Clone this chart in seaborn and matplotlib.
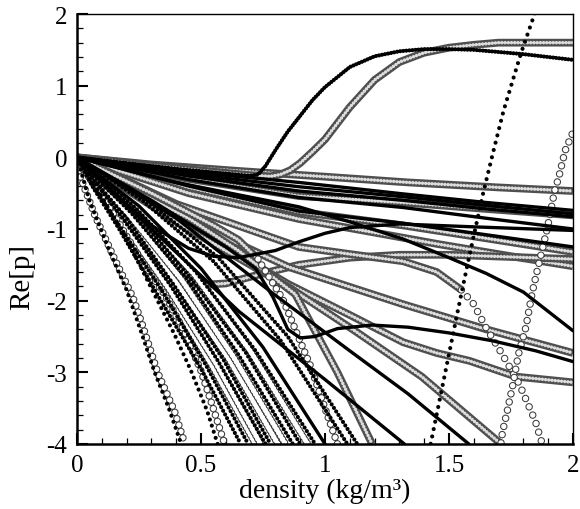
import matplotlib
matplotlib.use("Agg")
import matplotlib.pyplot as plt
import seaborn as sns
from matplotlib.ticker import MultipleLocator, FuncFormatter

# ---- data: density (kg/m3) vs Re[p] ----
# shallow fan ending on the right edge
ring_a_x = [0, 0.3, 0.65, 1.0, 1.335, 1.7, 2.0]
ring_a_y = [0, -0.1, -0.19, -0.27, -0.35, -0.42, -0.47]

ring_rise_x = [0, 0.4, 0.7, 0.78, 0.82, 0.86, 0.9, 0.95, 1.0, 1.1, 1.2, 1.3, 1.4, 1.5, 1.6, 1.7, 2.0]
ring_rise_y = [0, -0.15, -0.25, -0.265, -0.24, -0.18, -0.08, 0.08, 0.25, 0.7, 1.08, 1.33, 1.46, 1.53, 1.57, 1.6, 1.6]

dots_rise_x = [0, 0.4, 0.7, 0.73, 0.76, 0.8, 0.85, 0.9, 0.95, 1.0, 1.1, 1.2, 1.3, 1.4, 1.5, 1.6, 1.7, 1.8, 1.9, 2.0]
dots_rise_y = [0, -0.16, -0.26, -0.24, -0.12, 0.1, 0.36, 0.58, 0.8, 0.98, 1.26, 1.41, 1.48, 1.51, 1.51, 1.5, 1.47, 1.44, 1.4, 1.36]

fan_x = [0, 0.45, 0.894, 1.315, 1.65, 2.0]
sol_1_y = [0, -0.2, -0.35, -0.51, -0.63, -0.74]
sol_2_y = [0, -0.23, -0.41, -0.55, -0.67, -0.79]
sol_3_y = [0, -0.26, -0.47, -0.6, -0.72, -0.83]
ring_b_y = [0, -0.3, -0.54, -0.63, -0.72, -0.81]
sol_4_y = [0, -0.31, -0.56, -0.7, -0.85, -1.0]
sol_5_y = [0, -0.4, -0.75, -0.92, -1.08, -1.25]
ring_c_y = [0, -0.42, -0.76, -0.95, -1.13, -1.32]

ring_d_x = [0, 0.45, 0.894, 1.2, 1.455, 1.75, 2.0]
ring_d_y = [0, -0.5, -0.86, -1.05, -1.21, -1.38, -1.52]

bump_sol_x = [0, 0.15, 0.3, 0.45, 0.55, 0.65, 0.8, 0.894, 1.0, 1.1, 1.3, 1.6, 2.0]
bump_sol_y = [0, -0.5, -0.95, -1.27, -1.38, -1.4, -1.3, -1.18, -1.06, -0.98, -0.93, -0.97, -1.02]

bump_ring_x = [0, 0.15, 0.3, 0.4, 0.5, 0.6, 0.75, 0.894, 1.1, 1.3, 1.5, 1.75, 2.0]
bump_ring_y = [0, -0.7, -1.35, -1.65, -1.78, -1.76, -1.62, -1.5, -1.4, -1.36, -1.36, -1.39, -1.42]

sol_6_x = [0, 0.4, 0.894, 1.1, 1.315, 1.5, 1.65, 1.8, 1.9, 2.0]
sol_6_y = [0, -0.35, -0.69, -0.9, -1.14, -1.4, -1.62, -1.88, -2.15, -2.42]

ring_e_x = [0, 0.4, 0.853, 1.315, 1.65, 2.0]
ring_e_y = [0, -0.8, -1.53, -2.05, -2.4, -2.73]

dip_sol_x = [0, 0.3, 0.6, 0.72, 0.79, 0.85, 0.9, 0.96, 1.05, 1.19, 1.335, 1.5, 1.675, 1.85, 2.0]
dip_sol_y = [0, -0.6, -1.25, -1.55, -1.95, -2.4, -2.52, -2.5, -2.39, -2.34, -2.37, -2.45, -2.56, -2.7, -2.85]

ring_f_x = [0, 0.4, 0.853, 1.1, 1.315, 1.45, 1.583, 1.77, 2.0]
ring_f_y = [0, -0.85, -1.77, -2.2, -2.58, -2.73, -2.84, -3.06, -3.14]

drop_ring_x = [0, 0.4, 0.894, 1.1, 1.315, 1.45, 1.55, 1.6, 1.648, 1.715, 1.783, 1.848, 1.876]
drop_ring_y = [0, -0.65, -1.25, -1.35, -1.45, -1.6, -1.85, -2.05, -2.37, -2.75, -3.16, -3.68, -4.0]

# diagonals leaving through the bottom edge
diag_ring_x = [0, 0.4, 0.853, 1.12, 1.39, 1.71]
diag_ring_y = [0, -0.9, -1.81, -2.42, -3.06, -4.0]
diag_sol_1_x = [0, 0.4, 0.794, 1.1, 1.335, 1.58]
diag_sol_1_y = [0, -0.85, -1.91, -2.7, -3.3, -4.0]
diag_sol_2_x = [0, 0.3, 0.653, 1.0, 1.32]
diag_sol_2_y = [0, -1.0, -2.15, -3.1, -4.0]
diag_ring_2_x = [0, 0.2, 0.45, 0.65, 0.88, 1.05, 1.19]
diag_ring_2_y = [0, -0.4, -0.85, -1.3, -1.91, -3.0, -4.0]
sparse_ring_x = [0, 0.3, 0.55, 0.65, 0.73, 0.83, 0.94, 1.05]
sparse_ring_y = [0, -0.5, -0.95, -1.15, -1.42, -1.98, -2.9, -4.0]

# steep bundle
b1_x = [0, 0.07, 0.17, 0.33, 0.5, 0.66]
b1_y = [0, -0.45, -1.0, -1.95, -2.95, -4.0]
b2_x = [0, 0.07, 0.17, 0.35, 0.52, 0.69]
b2_y = [0, -0.42, -0.95, -1.9, -2.9, -4.0]
b3_x = [0, 0.07, 0.18, 0.36, 0.54, 0.72]
b3_y = [0, -0.4, -0.9, -1.85, -2.88, -4.0]
b13_x = [0, 0.07, 0.18, 0.37, 0.56, 0.74]
b13_y = [0, -0.39, -0.89, -1.83, -2.87, -4.0]
b4_x = [0, 0.08, 0.19, 0.38, 0.57, 0.76]
b4_y = [0, -0.38, -0.88, -1.8, -2.85, -4.0]
b5_x = [0, 0.08, 0.2, 0.39, 0.59, 0.78]
b5_y = [0, -0.36, -0.85, -1.78, -2.82, -4.0]
b6_x = [0, 0.08, 0.2, 0.4, 0.61, 0.81]
b6_y = [0, -0.36, -0.84, -1.75, -2.8, -4.0]
b7_x = [0, 0.08, 0.21, 0.42, 0.63, 0.84]
b7_y = [0, -0.34, -0.8, -1.7, -2.78, -4.0]
b8_x = [0, 0.09, 0.22, 0.44, 0.65, 0.87]
b8_y = [0, -0.33, -0.78, -1.68, -2.75, -4.0]
b9_x = [0, 0.09, 0.23, 0.45, 0.68, 0.9]
b9_y = [0, -0.32, -0.75, -1.65, -2.72, -4.0]
b14_x = [0, 0.09, 0.23, 0.47, 0.7, 0.93]
b14_y = [0, -0.31, -0.74, -1.62, -2.71, -4.0]
b10_x = [0, 0.1, 0.24, 0.48, 0.72, 0.96]
b10_y = [0, -0.3, -0.72, -1.6, -2.7, -4.0]
b11_x = [0, 0.1, 0.25, 0.5, 0.75, 1.0]
b11_y = [0, -0.28, -0.68, -1.55, -2.65, -4.0]
b12_x = [0, 0.11, 0.27, 0.55, 0.82, 1.09]
b12_y = [0, -0.25, -0.62, -1.45, -2.55, -4.0]
b15_x = [0, 0.11, 0.28, 0.57, 0.85, 1.13]
b15_y = [0, -0.24, -0.6, -1.4, -2.5, -4.0]

# leftmost pairs
l1_ring_x = [0, 0.012, 0.072, 0.152, 0.225, 0.265, 0.325, 0.393, 0.435]
l1_ring_y = [0, -0.26, -0.81, -1.42, -1.95, -2.35, -3.0, -3.54, -4.0]
l1_dots_x = [0, 0.05, 0.13, 0.2, 0.26, 0.313, 0.37, 0.42]
l1_dots_y = [0, -0.6, -1.3, -1.85, -2.45, -3.0, -3.5, -4.0]
l2_ring_x = [0, 0.1, 0.2, 0.28, 0.353, 0.433, 0.5, 0.553, 0.595]
l2_ring_y = [0, -0.5, -1.1, -1.55, -1.91, -2.43, -2.98, -3.54, -4.0]
l2_dots_x = [0, 0.1, 0.2, 0.26, 0.325, 0.393, 0.46, 0.525, 0.567]
l2_dots_y = [0, -0.55, -1.15, -1.55, -2.0, -2.47, -2.98, -3.54, -4.0]

# right-hand steep branches
steep_dots_x = [1.42, 1.475, 1.535, 1.575, 1.635, 1.675, 1.72, 1.79, 1.845, 1.86]
steep_dots_y = [-4.1, -3.17, -2.15, -1.49, -0.54, 0.03, 0.65, 1.45, 2.0, 2.15]
up_ring_x = [1.705, 1.716, 1.735, 1.756, 1.78, 1.81, 1.836, 1.857, 1.889, 1.905, 1.925, 1.944, 1.968, 2.0]
up_ring_y = [-4.1, -3.83, -3.54, -3.2, -2.75, -2.37, -1.88, -1.56, -1.1, -0.85, -0.48, -0.26, 0.09, 0.35]

sns.set_theme(style="white")
plt.rcParams['font.family'] = ['Liberation Serif', 'DejaVu Serif']
plt.rcParams['lines.scale_dashes'] = False
plt.rcParams['axes.unicode_minus'] = False

fig = plt.figure(figsize=(5.8, 5.1), dpi=100)
ax = fig.add_axes([77/580, 1-445/510, 496/580, 430/510])


def band(x, y):
    # dense open circles: grey band with a row of light holes
    sns.lineplot(x=x, y=y, ax=ax, sort=False, estimator=None, color='#4f4f4f', lw=5.6,
                 solid_capstyle='butt')
    sns.lineplot(x=x, y=y, ax=ax, sort=False, estimator=None, color='#dcdcdc', lw=2.5,
                 linestyle=(0, (0.01, 2.3)), dash_capstyle='round')


def rings(x, y, gap):
    sns.lineplot(x=x, y=y, ax=ax, sort=False, estimator=None, color='#3a3a3a', lw=5.4,
                 linestyle=(0, (0.01, gap)), dash_capstyle='round')
    sns.lineplot(x=x, y=y, ax=ax, sort=False, estimator=None, color='white', lw=3.9,
                 linestyle=(0, (0.01, gap)), dash_capstyle='round')


def dots(x, y, gap):
    sns.lineplot(x=x, y=y, ax=ax, sort=False, estimator=None, color='black', lw=3.0,
                 linestyle=(0, (0.01, gap)), dash_capstyle='round')


def solid(x, y):
    sns.lineplot(x=x, y=y, ax=ax, sort=False, estimator=None, color='black', lw=2.4)


# open-circle series
band(ring_a_x, ring_a_y)
band(ring_rise_x, ring_rise_y)
band(fan_x, ring_b_y)
band(fan_x, ring_c_y)
band(ring_d_x, ring_d_y)
band(bump_ring_x, bump_ring_y)
band(ring_e_x, ring_e_y)
band(ring_f_x, ring_f_y)
band(drop_ring_x[:7], drop_ring_y[:7])
rings(drop_ring_x[6:], drop_ring_y[6:], 6.5)
band(diag_ring_x, diag_ring_y)
band(diag_ring_2_x, diag_ring_2_y)
band(sparse_ring_x[:5], sparse_ring_y[:5])
rings(sparse_ring_x[4:], sparse_ring_y[4:], 5.0)
for bx, by in [(b3_x, b3_y), (b13_x, b13_y), (b6_x, b6_y), (b7_x, b7_y), (b14_x, b14_y)]:
    rings(bx, by, 2.7)
rings(l1_ring_x, l1_ring_y, 4.8)
rings(l2_ring_x, l2_ring_y, 4.8)
rings(up_ring_x, up_ring_y, 6.0)

# filled-dot series
solid(fan_x, sol_1_y)
solid(fan_x, sol_2_y)
solid(fan_x, sol_3_y)
solid(fan_x, sol_4_y)
solid(fan_x, sol_5_y)
solid(bump_sol_x, bump_sol_y)
solid(sol_6_x, sol_6_y)
solid(dip_sol_x, dip_sol_y)
solid(diag_sol_1_x, diag_sol_1_y)
solid(diag_sol_2_x, diag_sol_2_y)
solid(b11_x, b11_y)
dots(dots_rise_x, dots_rise_y, 2.2)
for bx, by in [(b1_x, b1_y), (b2_x, b2_y), (b4_x, b4_y), (b5_x, b5_y),
               (b8_x, b8_y), (b9_x, b9_y), (b10_x, b10_y), (b12_x, b12_y), (b15_x, b15_y)]:
    dots(bx, by, 3.0)
dots(l1_dots_x, l1_dots_y, 4.6)
dots(l2_dots_x, l2_dots_y, 4.6)
dots(steep_dots_x, steep_dots_y, 5.4)

ax.set_xlim(0, 2)
ax.set_ylim(-4, 2)
ax.xaxis.set_major_locator(MultipleLocator(0.5))
ax.xaxis.set_minor_locator(MultipleLocator(0.1))
ax.yaxis.set_major_locator(MultipleLocator(1))
ax.yaxis.set_minor_locator(MultipleLocator(0.2))
ax.xaxis.set_major_formatter(FuncFormatter(lambda v, p: f"{v:g}"))
ax.yaxis.set_major_formatter(FuncFormatter(lambda v, p: f"{v:g}"))

ax.tick_params(which='both', direction='in', top=False, right=False, labelsize=18, pad=7,
               colors='black', bottom=True, left=True)
ax.tick_params(which='major', length=8, width=1.5)
ax.tick_params(which='minor', length=4.5, width=0.9)
for side in ['left', 'bottom']:
    ax.spines[side].set_linewidth(1.8)
for side in ['top', 'right']:
    ax.spines[side].set_linewidth(1.0)
for s in ax.spines.values():
    s.set_color('black')

ax.set_xlabel('density (kg/m³)', fontsize=20, color='black')
ax.set_ylabel('Re[p]', fontsize=21, color='black')
ax.xaxis.set_label_coords(0.5, -0.078)
ax.yaxis.set_label_coords(-0.085, 0.39)

fig.savefig('out.png', dpi=100)
